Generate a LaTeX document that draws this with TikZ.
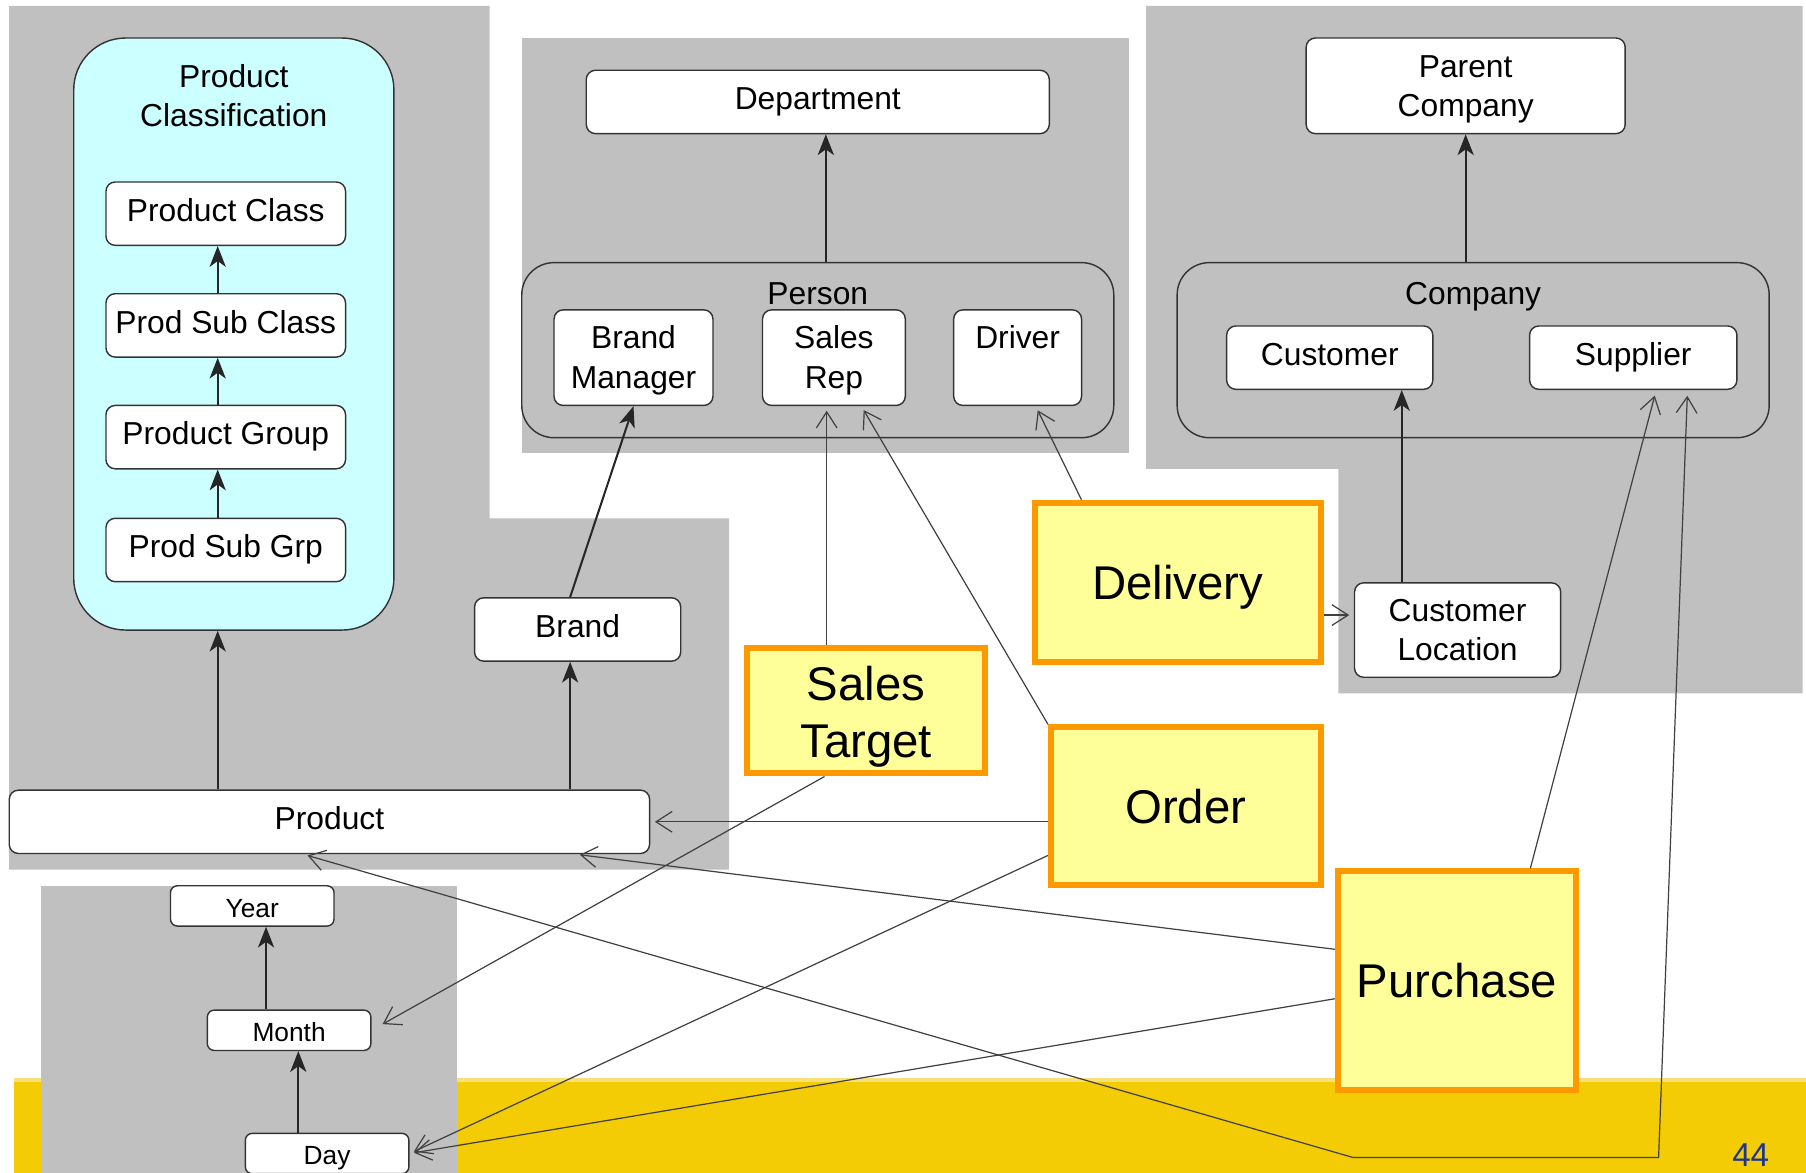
\documentclass[tikz,border=0pt]{standalone}
\usepackage{fontspec}
\setmainfont{Liberation Sans}
\usepackage{tikz}
\usetikzlibrary{calc}
\usetikzlibrary{arrows.meta}
\definecolor{bggray}{RGB}{192,192,192}
\definecolor{cyanfill}{RGB}{204,255,255}
\definecolor{factfill}{RGB}{255,255,153}
\definecolor{factedge}{RGB}{255,153,0}
\definecolor{bandyellow}{RGB}{243,204,6}
\definecolor{bandlight}{RGB}{248,224,120}
\definecolor{pagenum}{RGB}{30,55,140}
\newcommand{\lblfont}{\fontsize{7.85}{9.7}\selectfont}
\newcommand{\factfont}{\fontsize{11.7}{14.2}\selectfont}
\newcommand{\timefont}{\fontsize{6.5}{8}\selectfont}
\tikzset{
  barb/.tip={Straight Barb[length=0.14cm,width=0.18cm]},
  box/.style={draw=black!80, line width=0.35pt, fill=white, rounded corners=0.08cm,
    align=center, inner sep=0pt, font=\lblfont,
    execute at begin node=\strut, execute at end node=\strut},
  twoline/.style={box, text height=18pt},
  timebox/.style={box, font=\timefont, rounded corners=0.06cm, text depth=0pt},
  grp/.style={draw=black!80, line width=0.35pt, rounded corners=0.28cm},
  grplabel/.style={font=\lblfont, inner sep=0pt, anchor=base},
  fact/.style={draw=factedge, fill=factfill, line width=1.5pt, align=center,
    inner sep=0pt, font=\factfont},
  hier/.style={-{Stealth[length=0.18cm,width=0.14cm,inset=0.05cm]}, line width=0.5pt, black!85},
  link/.style={-barb, line width=0.3pt, black!75, shorten >=0.04cm}
}
\begin{document}
\begin{tikzpicture}
      \useasboundingbox (0,0) rectangle (15.68,-10.18);
      \fill[bggray] (0.08,-0.05) -- (4.25,-0.05) -- (4.25,-4.50) -- (6.33,-4.50) -- (6.33,-7.55) -- (0.08,-7.55) -- cycle;
      \fill[bggray] (4.53,-0.33) rectangle (9.80,-3.93);
      \fill[bggray] (9.95,-0.05) -- (15.65,-0.05) -- (15.65,-6.02) -- (11.62,-6.02) -- (11.62,-4.07) -- (9.95,-4.07) -- cycle;
      \fill[bandyellow] (0.12,-9.36) rectangle (15.68,-10.18);
      \fill[bandlight] (0.12,-9.36) rectangle (15.68,-9.39);
      \fill[bggray] (0.36,-7.69) rectangle (3.97,-10.18);

      \node[draw=black!80, line width=0.35pt, fill=cyanfill, rounded corners=0.45cm, minimum width=2.78cm, minimum height=5.14cm] (PCls) at (2.03,-2.90) {};
      \node[font=\lblfont, align=center, inner sep=0pt] (PClsT) at (2.03,-0.83) {Product\\Classification};
      \node[box, minimum width=2.08cm, minimum height=0.55cm] (PC) at (1.96,-1.855) {Product Class};
      \node[box, minimum width=2.08cm, minimum height=0.55cm] (PSC) at (1.96,-2.825) {Prod Sub Class};
      \node[box, minimum width=2.08cm, minimum height=0.55cm] (PG) at (1.96,-3.795) {Product Group};
      \node[box, minimum width=2.08cm, minimum height=0.55cm] (PSG) at (1.96,-4.775) {Prod Sub Grp};
      \node[box, minimum width=5.56cm, minimum height=0.55cm] (Prod) at (2.86,-7.135) {Product};
      \node[box, minimum width=1.79cm, minimum height=0.55cm] (Brand) at (5.015,-5.465) {Brand};

      \node[box, minimum width=4.02cm, minimum height=0.55cm] (Dept) at (7.10,-0.885) {Department};
      \node[grp, minimum width=5.14cm, minimum height=1.52cm] (Person) at (7.10,-3.04) {};
      \node[grplabel] (PersonT) at (7.10,-2.64) {Person};
      \node[twoline, minimum width=1.38cm, minimum height=0.83cm] (BM) at (5.50,-3.105) {Brand\\Manager};
      \node[twoline, minimum width=1.24cm, minimum height=0.83cm] (SR) at (7.24,-3.105) {Sales\\Rep};
      \node[twoline, minimum width=1.11cm, minimum height=0.83cm] (Drv) at (8.835,-3.105) {Driver\\\strut};

      \node[twoline, minimum width=2.77cm, minimum height=0.83cm] (Parent) at (12.725,-0.745) {Parent\\Company};
      \node[grp, minimum width=5.14cm, minimum height=1.52cm] (Comp) at (12.79,-3.04) {};
      \node[grplabel] (CompT) at (12.79,-2.64) {Company};
      \node[box, minimum width=1.79cm, minimum height=0.55cm] (Cust) at (11.545,-3.105) {Customer};
      \node[box, minimum width=1.80cm, minimum height=0.55cm] (Supp) at (14.18,-3.105) {Supplier};
      \node[twoline, minimum width=1.79cm, minimum height=0.82cm] (CL) at (12.655,-5.47) {Customer\\Location};

      \node[timebox, minimum width=1.42cm, minimum height=0.35cm] (Year) at (2.19,-7.865) {Year};
      \node[timebox, minimum width=1.42cm, minimum height=0.35cm] (Month) at (2.51,-8.945) {Month};
      \node[timebox, minimum width=1.42cm, minimum height=0.35cm] (Day) at (2.84,-10.015) {Day};

      \node[fact, minimum width=2.07cm, minimum height=1.09cm, text height=25.7pt] (ST) at (7.52,-6.17) {Sales\\Target};
      \node[fact, minimum width=2.48cm, minimum height=1.38cm, text depth=0pt] (Del) at (10.225,-5.055) {Delivery};
      \node[fact, minimum width=2.34cm, minimum height=1.37cm] (Ord) at (10.295,-7.00) {Order};
      \node[fact, minimum width=2.07cm, minimum height=1.90cm] (Pur) at (12.65,-8.515) {Purchase};

      \coordinate (ax) at (1.89,0);
      \coordinate (bx) at (4.95,0);
      \coordinate (dx) at (7.17,0);
      \coordinate (cx) at (12.17,0);
      \coordinate (yx) at (2.31,0);
      \coordinate (mx) at (2.59,0);
      \draw[hier] (PSG.north -| ax) -- (PG.south -| ax);
      \draw[hier] (PG.north -| ax) -- (PSC.south -| ax);
      \draw[hier] (PSC.north -| ax) -- (PC.south -| ax);
      \draw[hier] (Prod.north -| ax) -- (PCls.south -| ax);
      \draw[hier] (Prod.north -| bx) -- (Brand.south -| bx);
      \draw[hier] (Brand.north -| bx) -- (BM.south);
      \draw[hier] (Person.north -| dx) -- (Dept.south -| dx);
      \draw[hier] (Comp.north -| Parent.south) -- (Parent.south);
      \draw[hier] (CL.north -| cx) -- (Cust.south -| cx);
      \draw[hier] (Month.north -| yx) -- (Year.south -| yx);
      \draw[hier] (Day.north -| mx) -- (Month.south -| mx);

      \coordinate (SR1) at ($(SR.south west)!0.45!(SR.south east)$);
      \coordinate (SR2) at ($(SR.south west)!0.69!(SR.south east)$);
      \coordinate (dl) at (0,-5.34);
      \coordinate (bendL) at (11.75,-10.05);
      \coordinate (bendR) at (14.40,-10.05);
      \draw[link] (ST.north -| SR1) -- (SR1);
      \draw[link] (Ord.north west) -- (SR2);
      \draw[link] ($(Del.north west)!0.17!(Del.north east)$) -- ($(Drv.south west)!0.64!(Drv.south east)$);
      \draw[link] (Del.east |- dl) -- (CL.west |- dl);
      \draw[link] (Ord.west |- Prod.east) -- (Prod.east);
      \draw[link, shorten >=0.11cm] ($(ST.south west)!0.33!(ST.south east)$) -- (Month.east);
      \draw[link] ($(Ord.north west)!0.8!(Ord.south west)$) -- (Day.east);
      \draw[link] ($(Pur.north west)!0.36!(Pur.south west)$) -- ($(Prod.south west)!0.883!(Prod.south east)$);
      \draw[link] ($(Pur.north west)!0.58!(Pur.south west)$) -- (Day.east);
      \draw[link, shorten >=0.05cm] ($(Pur.north west)!0.8!(Pur.north east)$) -- ($(Supp.south west)!0.61!(Supp.south east)$);
      \draw[link, barb-barb, shorten <=0.04cm, shorten >=0.05cm] ($(Prod.south west)!0.459!(Prod.south east)$) -- (bendL) -- (bendR) -- ($(Supp.south west)!0.76!(Supp.south east)$);

      \node[font=\fontsize{8.2}{10}\selectfont, text=pagenum] (PgNo) at (15.20,-10.03) {44};
    \end{tikzpicture}
\end{document}
